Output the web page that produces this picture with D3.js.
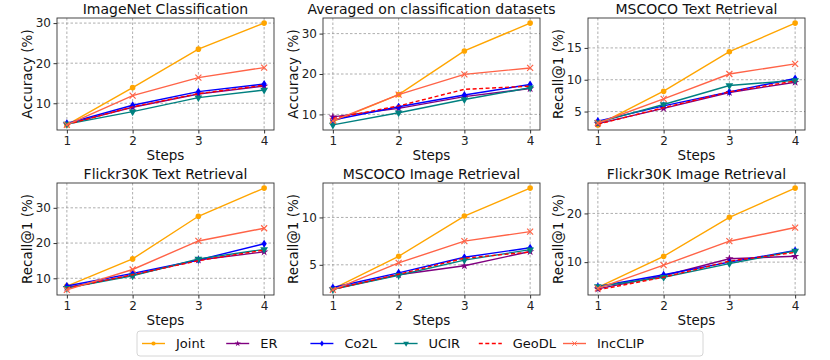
<!DOCTYPE html>
<html lang="en">
<head>
  <meta charset="UTF-8">
  <title>Incremental steps results</title>
  <script src="https://d3js.org/d3.v7.min.js"></script>
  <style>
    body { margin: 0; background: #fff; font-family: "DejaVu Sans", sans-serif; }
  </style>
</head>
<body>
<svg id="chart" width="830" height="360"></svg>
<script>
  // Data
  const steps = [1, 2, 3, 4];
  const methods = ["Joint", "ER", "Co2L", "UCIR", "GeoDL", "IncCLIP"];

  const imagenet = {
    Joint: [4.6, 13.9, 23.5, 30.0],
    ER: [4.8, 9.0, 12.3, 14.3],
    Co2L: [5.0, 9.5, 12.9, 14.8],
    UCIR: [4.8, 7.9, 11.4, 13.3],
    GeoDL: [4.7, 9.1, 12.4, 14.5],
    IncCLIP: [4.6, 11.9, 16.4, 18.9]
  };
  const averaged = {
    Joint: [8.2, 14.9, 25.7, 32.6],
    ER: [9.4, 11.5, 14.4, 16.4],
    Co2L: [8.6, 11.9, 14.8, 17.4],
    UCIR: [7.4, 10.4, 13.7, 16.6],
    GeoDL: [9.0, 12.1, 16.2, 17.0],
    IncCLIP: [8.4, 14.9, 19.9, 21.5]
  };
  const cocoText = {
    Joint: [2.9, 8.2, 14.4, 18.9],
    ER: [3.1, 5.5, 8.0, 9.6],
    Co2L: [3.5, 5.9, 8.1, 10.2],
    UCIR: [3.3, 6.1, 9.1, 9.9],
    GeoDL: [3.0, 5.6, 8.1, 9.8],
    IncCLIP: [3.2, 7.0, 10.9, 12.5]
  };
  const flickrText = {
    Joint: [7.8, 15.5, 27.6, 35.6],
    ER: [7.4, 10.9, 15.2, 17.5],
    Co2L: [7.8, 11.4, 15.2, 19.8],
    UCIR: [7.2, 10.7, 15.5, 18.2],
    GeoDL: [7.2, 11.0, 15.0, 18.0],
    IncCLIP: [6.7, 12.5, 20.6, 24.2]
  };
  const cocoImage = {
    Joint: [2.45, 5.9, 10.15, 13.1],
    ER: [2.45, 3.95, 4.9, 6.4],
    Co2L: [2.6, 4.15, 5.8, 6.8],
    UCIR: [2.4, 3.9, 5.5, 6.6],
    GeoDL: [2.4, 4.0, 5.7, 6.35],
    IncCLIP: [2.35, 5.2, 7.5, 8.5]
  };
  const flickrImage = {
    Joint: [4.8, 11.2, 19.2, 25.2],
    ER: [4.5, 7.2, 10.7, 11.2],
    Co2L: [5.0, 7.4, 10.0, 12.4],
    UCIR: [5.0, 6.9, 9.7, 12.3],
    GeoDL: [4.3, 6.9, 10.2, 12.0],
    IncCLIP: [4.6, 9.4, 14.3, 17.1]
  };

  const panels = [
    { title: "ImageNet Classification", ylabel: "Accuracy (%)", data: imagenet, yticks: [10, 20, 30] },
    { title: "Averaged on classification datasets", ylabel: "Accuracy (%)", data: averaged, yticks: [10, 20, 30] },
    { title: "MSCOCO Text Retrieval", ylabel: "Recall@1 (%)", data: cocoText, yticks: [5, 10, 15] },
    { title: "Flickr30K Text Retrieval", ylabel: "Recall@1 (%)", data: flickrText, yticks: [10, 20, 30] },
    { title: "MSCOCO Image Retrieval", ylabel: "Recall@1 (%)", data: cocoImage, yticks: [5, 10] },
    { title: "Flickr30K Image Retrieval", ylabel: "Recall@1 (%)", data: flickrImage, yticks: [10, 20] }
  ];

  const style = {
    Joint:   { color: "#FFA500", symbol: "circle" },
    ER:      { color: "#800080", symbol: "star" },
    Co2L:    { color: "#0000FF", symbol: "diamond" },
    UCIR:    { color: "#008080", symbol: "tri" },
    GeoDL:   { color: "#FF0000", symbol: null, dash: "4,2.5" },
    IncCLIP: { color: "#FF6347", symbol: "x" }
  };

  const svg = d3.select("#chart");
  const colX = [57, 323, 588];
  const rowY = [18, 183];
  const pw = 217, ph = 112;

  function marker(g, type, color) {
    if (type === "circle") {
      g.append("circle").attr("r", 2.8).attr("fill", color);
    } else if (type === "star") {
      g.append("path").attr("d", d3.symbol(d3.symbolStar, 22)()).attr("fill", color);
    } else if (type === "diamond") {
      g.append("path").attr("d", "M0,-4L2.6,0L0,4L-2.6,0Z").attr("fill", color);
    } else if (type === "tri") {
      g.append("path").attr("d", d3.symbol(d3.symbolTriangle, 26)())
        .attr("transform", "rotate(180)").attr("fill", color);
    } else if (type === "x") {
      g.append("path").attr("d", "M-3,-3L3,3M-3,3L3,-3")
        .attr("stroke", color).attr("stroke-width", 1.2).attr("fill", "none");
    }
  }

  panels.forEach((p, i) => {
    const left = colX[i % 3], top = rowY[Math.floor(i / 3)];
    const g = svg.append("g").attr("transform", `translate(${left},${top})`);

    const x = d3.scaleLinear().domain([0.85, 4.15]).range([0, pw]);
    const all = methods.flatMap(m => p.data[m]);
    const [lo, hi] = d3.extent(all);
    const pad = (hi - lo) * 0.05;
    const y = d3.scaleLinear().domain([lo - pad, hi + pad]).range([ph, 0]);

    // grid
    g.append("g").selectAll("line").data(steps).join("line")
      .attr("x1", d => x(d)).attr("x2", d => x(d)).attr("y1", 0).attr("y2", ph)
      .attr("stroke", "#999").attr("stroke-width", 0.8).attr("stroke-dasharray", "2.5,2");
    g.append("g").selectAll("line").data(p.yticks).join("line")
      .attr("x1", 0).attr("x2", pw).attr("y1", d => y(d)).attr("y2", d => y(d))
      .attr("stroke", "#999").attr("stroke-width", 0.8).attr("stroke-dasharray", "2.5,2");

    // axes
    const xa = g.append("g").attr("transform", `translate(0,${ph})`)
      .call(d3.axisBottom(x).tickValues(steps).tickSize(3.5).tickPadding(2.5).tickFormat(d3.format("d")));
    const ya = g.append("g")
      .call(d3.axisLeft(y).tickValues(p.yticks).tickSize(3.5).tickPadding(2.5).tickFormat(d3.format("d")));
    [xa, ya].forEach(a => {
      a.select(".domain").remove();
      a.selectAll("line").attr("stroke", "#333");
      a.selectAll("text").attr("font-family", "DejaVu Sans").attr("font-size", 12).attr("fill", "#222");
    });

    // frame
    g.append("rect").attr("width", pw).attr("height", ph)
      .attr("fill", "none").attr("stroke", "#333").attr("stroke-width", 0.9);

    // lines
    const line = d3.line().x((d, k) => x(steps[k])).y(d => y(d));
    methods.forEach(m => {
      const s = style[m];
      g.append("path").datum(p.data[m]).attr("d", line)
        .attr("fill", "none").attr("stroke", s.color).attr("stroke-width", 1.4)
        .attr("stroke-dasharray", s.dash || null);
      if (s.symbol) {
        p.data[m].forEach((v, k) => {
          marker(g.append("g").attr("transform", `translate(${x(steps[k])},${y(v)})`), s.symbol, s.color);
        });
      }
    });

    // texts
    g.append("text").attr("x", pw / 2).attr("y", -4).attr("text-anchor", "middle")
      .attr("font-size", 14).attr("fill", "#111").text(p.title);
    g.append("text").attr("x", pw / 2).attr("y", ph + 30).attr("text-anchor", "middle")
      .attr("font-size", 13.5).attr("fill", "#111").text("Steps");
    g.append("text").attr("transform", `translate(-30,${ph / 2}) rotate(-90)`)
      .attr("dy", "0.35em")
      .attr("text-anchor", "middle").attr("font-size", 13.5).attr("fill", "#111").text(p.ylabel);
  });

  // legend
  const legend = svg.append("g");
  legend.append("rect").attr("x", 137).attr("y", 331).attr("width", 566).attr("height", 25)
    .attr("rx", 3).attr("fill", "#fff").attr("stroke", "#ccc").attr("stroke-width", 0.8);
  const legX = d3.scalePoint().domain(methods).range([142, 563]);
  methods.forEach(m => {
    const s = style[m];
    const lx = legX(m);
    const lg = legend.append("g").attr("transform", `translate(${lx},343.5)`);
    lg.append("line").attr("x1", 0).attr("x2", 23).attr("stroke", s.color).attr("stroke-width", 1.4)
      .attr("stroke-dasharray", s.dash || null);
    if (s.symbol) marker(lg.append("g").attr("transform", "translate(11.5,0) scale(0.75)"), s.symbol, s.color);
    lg.append("text").attr("x", 34).attr("y", 4.5).attr("font-size", 13).attr("fill", "#111").text(m);
  });
</script>
</body>
</html>
